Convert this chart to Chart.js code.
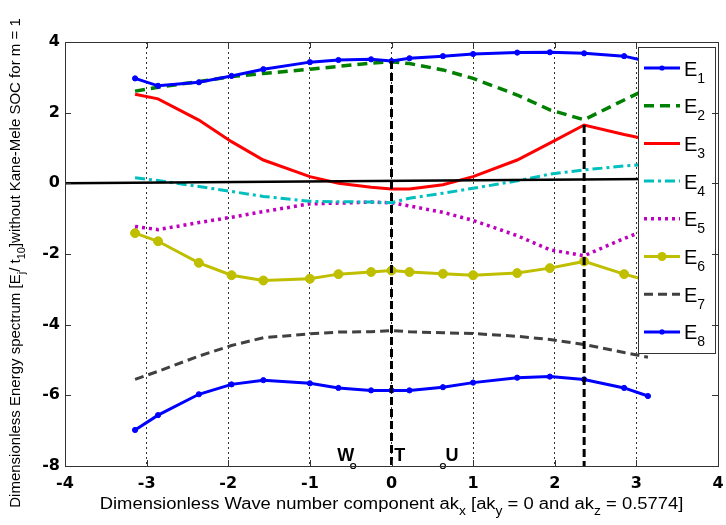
<!DOCTYPE html>
<html>
<head>
<meta charset="utf-8">
<script src="https://cdn.jsdelivr.net/npm/chart.js@4"></script>
<style>
  html, body { margin: 0; padding: 0; background: #fff; }
  canvas { display: block; }
</style>
</head>
<body>
<canvas id="myChart" width="726" height="525"></canvas>
<script>
// k-path sample points (ak_x) and energy bands
const kx = [-3.1416, -2.86, -2.36, -1.96, -1.57, -1.0, -0.65, -0.25, 0, 0.22, 0.63, 1.0, 1.54, 1.94, 2.36, 2.85, 3.1416];

const e1 = [2.97, 2.76, 2.86, 3.04, 3.23, 3.43, 3.49, 3.51, 3.46, 3.54, 3.60, 3.66, 3.70, 3.71, 3.68, 3.60, 3.45];
const e2 = [2.61, 2.72, 2.88, 3.02, 3.11, 3.23, 3.31, 3.40, 3.44, 3.39, 3.21, 2.97, 2.50, 2.08, 1.80, 2.36, 2.68];
const e3 = [2.52, 2.39, 1.79, 1.18, 0.66, 0.19, 0.00, -0.11, -0.16, -0.16, -0.04, 0.19, 0.66, 1.14, 1.65, 1.38, 1.24];
const e4 = [0.16, 0.08, -0.09, -0.23, -0.37, -0.51, -0.52, -0.53, -0.55, -0.42, -0.28, -0.14, 0.07, 0.26, 0.38, 0.49, 0.54];
const e5 = [-1.22, -1.31, -1.11, -0.96, -0.80, -0.58, -0.56, -0.53, -0.55, -0.64, -0.82, -1.05, -1.48, -1.88, -2.05, -1.56, -1.30];
const e6 = [-1.41, -1.64, -2.25, -2.60, -2.75, -2.70, -2.57, -2.51, -2.47, -2.51, -2.56, -2.60, -2.54, -2.40, -2.21, -2.57, -2.75];
const e7 = [-5.55, -5.32, -4.89, -4.59, -4.37, -4.26, -4.21, -4.20, -4.17, -4.20, -4.23, -4.25, -4.33, -4.42, -4.56, -4.79, -4.92];
const e8 = [-6.98, -6.56, -5.97, -5.69, -5.57, -5.66, -5.79, -5.86, -5.86, -5.86, -5.77, -5.64, -5.50, -5.47, -5.55, -5.79, -6.02];

// reference lines
const zeroLineX = [-4, 3.1416];
const zeroLineY = [0, 0.12];
const markLineX = [0, 2.36];          // vertical dashed markers
const markLineTop = [3.46, 1.65];     // where they start

// high-symmetry points
const symLabels = ["W", "T", "U"];
const symLabelX = [-0.56, 0.1, 0.74];
const symDotX = [-0.47, 0.63];

const FONT = "'Liberation Sans', Arial, Helvetica, sans-serif";
const TICK_FONT = "'DejaVu Sans', 'Liberation Sans', sans-serif";

function pts(ys) {
    return kx.map((x, i) => ({ x: x, y: ys[i] }));
}

const bandStyles = [
    { label: "1", data: e1, color: "rgb(0,0,255)", dash: [], width: 3, radius: 2.6 },
    { label: "2", data: e2, color: "rgb(0,128,0)", dash: [10, 6], width: 3.5, radius: 0 },
    { label: "3", data: e3, color: "rgb(255,0,0)", dash: [], width: 3, radius: 0 },
    { label: "4", data: e4, color: "rgb(0,191,191)", dash: [10, 4, 3, 4], width: 3, radius: 0 },
    { label: "5", data: e5, color: "rgb(191,0,191)", dash: [3, 4], width: 3.5, radius: 0 },
    { label: "6", data: e6, color: "rgb(191,191,0)", dash: [], width: 3, radius: 4.5 },
    { label: "7", data: e7, color: "rgb(64,64,64)", dash: [9, 5], width: 3, radius: 0 },
    { label: "8", data: e8, color: "rgb(0,0,255)", dash: [], width: 3, radius: 2.6 }
];

const datasets = bandStyles.map(b => ({
    label: "E" + b.label,
    data: pts(b.data),
    borderColor: b.color,
    backgroundColor: b.color,
    borderWidth: b.width,
    borderDash: b.dash,
    pointRadius: b.radius,
    pointBorderWidth: 1,
    pointBackgroundColor: b.color,
    pointBorderColor: b.color,
    tension: 0,
    order: 1,
    isBand: true
}));

// black horizontal line near zero
datasets.push({
    label: "zero",
    data: zeroLineX.map((x, i) => ({ x: x, y: zeroLineY[i] })),
    borderColor: "#000",
    borderWidth: 2.5,
    pointRadius: 0,
    order: 0
});

// vertical dashed markers
markLineX.forEach((x, i) => {
    datasets.push({
        label: "mark" + i,
        data: [{ x: x, y: markLineTop[i] }, { x: x, y: -8 }],
        borderColor: "#000",
        borderWidth: 3,
        borderDash: [8, 4],
        pointRadius: 0,
        order: 0
    });
});

// small open circles for W and U
datasets.push({
    label: "sym",
    data: symDotX.map(x => ({ x: x, y: -8 })),
    showLine: false,
    pointRadius: 2.5,
    pointBackgroundColor: "#fff",
    pointBorderColor: "#000",
    pointBorderWidth: 1.2,
    clip: false,
    order: 0
});

// draw a row of text pieces, some of them subscripts
function drawParts(ctx, parts, x, y, size, align, stretch) {
    const sx = stretch || 1;
    const subSize = Math.round(size * 0.72);
    let total = 0;
    parts.forEach(p => {
        ctx.font = (p.sub ? subSize : size) + "px " + FONT;
        total += ctx.measureText(p.t).width;
    });
    ctx.save();
    ctx.translate(x, y);
    ctx.scale(sx, 1);
    let cx = align === "center" ? -total / 2 : 0;
    ctx.textAlign = "left";
    ctx.textBaseline = "alphabetic";
    parts.forEach(p => {
        ctx.font = (p.sub ? subSize : size) + "px " + FONT;
        ctx.fillText(p.t, cx, p.sub ? size * 0.35 : 0);
        cx += ctx.measureText(p.t).width;
    });
    ctx.restore();
}

const decorPlugin = {
    id: "decor",
    afterDatasetsDraw(chart) {
        const { ctx, chartArea: a, scales } = chart;
        const xs = scales.x, ys = scales.y;

        // legend box
        const lx = a.right - 80, ly = a.top + 5, lw = 77, lh = 306;
        ctx.save();
        ctx.fillStyle = "#fff";
        ctx.fillRect(lx, ly, lw, lh);
        ctx.strokeStyle = "#333";
        ctx.lineWidth = 1;
        ctx.strokeRect(lx + 0.5, ly + 0.5, lw, lh);
        chart.data.datasets.filter(d => d.isBand).forEach((d, i) => {
            const y = ly + 21 + i * 37.7;
            ctx.strokeStyle = d.borderColor;
            ctx.lineWidth = d.borderWidth;
            ctx.setLineDash(d.borderDash || []);
            ctx.beginPath();
            ctx.moveTo(lx + 6, y);
            ctx.lineTo(lx + 42, y);
            ctx.stroke();
            ctx.setLineDash([]);
            if (d.pointRadius > 0) {
                ctx.fillStyle = d.borderColor;
                ctx.beginPath();
                ctx.arc(lx + 24, y, d.pointRadius, 0, Math.PI * 2);
                ctx.fill();
            }
            ctx.fillStyle = "#000";
            drawParts(ctx, [{ t: "E" }, { t: d.label.slice(1), sub: true }], lx + 46, y + 7.5, 20, "left");
        });
        ctx.restore();

        // W / T / U labels
        ctx.save();
        ctx.fillStyle = "#000";
        ctx.font = "bold 18px " + FONT;
        ctx.textAlign = "center";
        ctx.textBaseline = "alphabetic";
        symLabels.forEach((t, i) => {
            ctx.fillText(t, xs.getPixelForValue(symLabelX[i]), ys.getPixelForValue(-7.98) - 4);
        });
        ctx.restore();
    },
    afterDraw(chart) {
        const { ctx, chartArea: a, scales } = chart;
        const xs = scales.x, ys = scales.y;
        ctx.save();
        // frame
        ctx.strokeStyle = "#333";
        ctx.lineWidth = 1;
        ctx.strokeRect(Math.round(a.left) + 0.5, Math.round(a.top) + 0.5,
            Math.round(a.right - a.left), Math.round(a.bottom - a.top));
        // inward ticks
        ctx.beginPath();
        ys.ticks.forEach(t => {
            const py = Math.round(ys.getPixelForValue(t.value)) + 0.5;
            ctx.moveTo(a.left, py); ctx.lineTo(a.left + 6, py);
            ctx.moveTo(a.right, py); ctx.lineTo(a.right - 6, py);
        });
        xs.ticks.forEach(t => {
            const px = Math.round(xs.getPixelForValue(t.value)) + 0.5;
            ctx.moveTo(px, a.bottom); ctx.lineTo(px, a.bottom - 6);
            ctx.moveTo(px, a.top); ctx.lineTo(px, a.top + 6);
        });
        ctx.stroke();

        // axis titles
        ctx.fillStyle = "#000";
        drawParts(ctx, [
            { t: "Dimensionless Wave number component ak" }, { t: "x", sub: true },
            { t: " [ak" }, { t: "y", sub: true },
            { t: " = 0 and ak" }, { t: "z", sub: true },
            { t: " = 0.5774]" }
        ], (a.left + a.right) / 2, 509, 16, "center", 1.15);

        ctx.translate(20, 263);
        ctx.rotate(-Math.PI / 2);
        drawParts(ctx, [
            { t: "Dimensionless Energy spectrum [E" }, { t: "j", sub: true },
            { t: "/ t" }, { t: "10", sub: true },
            { t: "]without Kane-Mele SOC for m = 1" }
        ], 0, 0, 15, "center");
        ctx.restore();
    }
};

new Chart(document.getElementById("myChart").getContext("2d"), {
    type: "line",
    data: { datasets: datasets },
    options: {
        responsive: false,
        animation: false,
        layout: { padding: { top: 42, right: 8, left: 0, bottom: 0 } },
        plugins: {
            legend: { display: false },
            tooltip: { enabled: false }
        },
        scales: {
            x: {
                type: "linear",
                min: -4,
                max: 4,
                ticks: {
                    stepSize: 1,
                    color: "#000",
                    padding: 8,
                    font: { family: TICK_FONT, size: 16, weight: "bold" }
                },
                grid: { color: "#000", lineWidth: 0.8, drawTicks: false },
                border: { display: false, dash: [2, 3] },
                afterFit(scale) {
                    scale.height = 59;
                    scale.paddingLeft = 0;
                    scale.paddingRight = 0;
                }
            },
            y: {
                min: -8,
                max: 4,
                ticks: {
                    stepSize: 2,
                    color: "#000",
                    padding: 5,
                    font: { family: TICK_FONT, size: 16, weight: "bold" }
                },
                grid: { display: false, drawTicks: false },
                border: { display: false },
                afterFit(scale) {
                    scale.width = 65;
                    scale.paddingTop = 0;
                    scale.paddingBottom = 0;
                }
            }
        }
    },
    plugins: [decorPlugin]
});
</script>
</body>
</html>
